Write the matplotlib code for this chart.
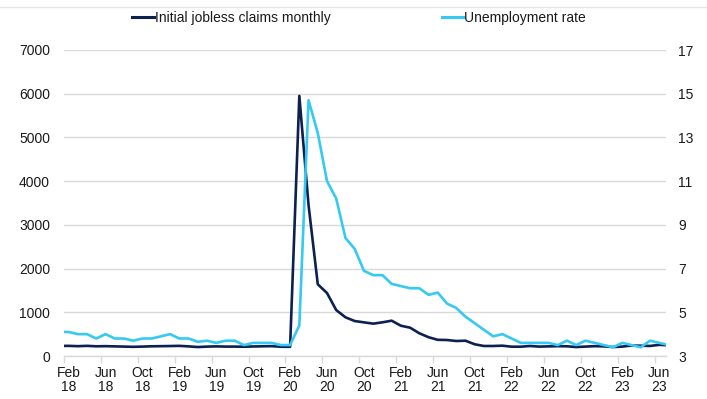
import matplotlib
matplotlib.use("Agg")
import matplotlib.pyplot as plt
from matplotlib.lines import Line2D
import numpy as np

plt.rcParams['font.family'] = ['Liberation Sans', 'DejaVu Sans']

# Monthly data, Jan 2018 .. Jul 2023
months = ["Jan 18",
          "Feb 18", "Mar 18", "Apr 18", "May 18", "Jun 18", "Jul 18", "Aug 18", "Sep 18", "Oct 18", "Nov 18", "Dec 18",
          "Jan 19", "Feb 19", "Mar 19", "Apr 19", "May 19", "Jun 19", "Jul 19", "Aug 19", "Sep 19", "Oct 19", "Nov 19", "Dec 19",
          "Jan 20", "Feb 20", "Mar 20", "Apr 20", "May 20", "Jun 20", "Jul 20", "Aug 20", "Sep 20", "Oct 20", "Nov 20", "Dec 20",
          "Jan 21", "Feb 21", "Mar 21", "Apr 21", "May 21", "Jun 21", "Jul 21", "Aug 21", "Sep 21", "Oct 21", "Nov 21", "Dec 21",
          "Jan 22", "Feb 22", "Mar 22", "Apr 22", "May 22", "Jun 22", "Jul 22", "Aug 22", "Sep 22", "Oct 22", "Nov 22", "Dec 22",
          "Jan 23", "Feb 23", "Mar 23", "Apr 23", "May 23", "Jun 23", "Jul 23"]

claims = [230,
          232, 225, 232, 222, 225, 220, 215, 210, 215, 222, 225,
          228, 232, 220, 205, 215, 220, 215, 215, 212, 218, 222, 225,
          212, 210, 5950, 3450, 1640, 1440, 1050, 885, 800, 770, 740, 770,
          808, 693, 648, 520, 430, 370, 366, 343, 350, 268, 229, 229,
          236, 213, 213, 229, 215, 220, 225, 222, 205, 215, 225, 220,
          205, 215, 240, 235, 230, 255, 245]

unemployment = [4.1,
                4.1, 4.0, 4.0, 3.8, 4.0, 3.8, 3.8, 3.7, 3.8, 3.8, 3.9,
                4.0, 3.8, 3.8, 3.65, 3.7, 3.6, 3.7, 3.7, 3.5, 3.6, 3.6, 3.6,
                3.5, 3.5, 4.4, 14.7, 13.2, 11.0, 10.2, 8.4, 7.9, 6.9, 6.7, 6.7,
                6.3, 6.2, 6.1, 6.1, 5.8, 5.9, 5.4, 5.2, 4.8, 4.5, 4.2, 3.9,
                4.0, 3.8, 3.6, 3.6, 3.6, 3.6, 3.5, 3.7, 3.5, 3.7, 3.6, 3.5,
                3.4, 3.6, 3.5, 3.4, 3.7, 3.6, 3.5]

tick_labels = ["Feb\n18", "Jun\n18", "Oct\n18", "Feb\n19", "Jun\n19", "Oct\n19",
               "Feb\n20", "Jun\n20", "Oct\n20", "Feb\n21", "Jun\n21", "Oct\n21",
               "Feb\n22", "Jun\n22", "Oct\n22", "Feb\n23", "Jun\n23"]

DARK = '#0c2152'
LIGHT = '#35c9f3'
GRID = '#d9d9d9'
TXT = '#1a1a1a'

# month index: Feb 2018 = 0, points plotted at mid-month
x = np.arange(len(months)) - 1 + 0.5

fig = plt.figure(figsize=(7.07, 3.99), dpi=100)
ax = fig.add_axes([64/707, 1-356/399, (665.7-64)/707, (356-50)/399])
ax2 = ax.twinx()

ax.plot(x, claims, color=DARK, lw=1.9, solid_joinstyle='round', zorder=3, clip_on=True)
ax2.plot(x, unemployment, color=LIGHT, lw=1.9, solid_joinstyle='round', zorder=3, clip_on=True)

ax.set_xlim(0, 65.2)
ax.set_ylim(0, 7000)
ax2.set_ylim(3, 17)
ax.set_yticks(np.arange(0, 7001, 1000))
ax2.set_yticks(np.arange(3, 18, 2))

ax.yaxis.grid(True, color=GRID, lw=1.0)
ax.set_axisbelow(True)

major = np.arange(0, 65, 4)
ax.set_xticks(major)
ax.set_xticklabels([])
ax.set_xticks(major + 0.5, minor=True)
ax.set_xticklabels(tick_labels, minor=True, linespacing=1.05)
ax.tick_params(axis='x', which='major', length=5, color=GRID, width=1)
ax.tick_params(axis='x', which='minor', length=0, pad=7, labelsize=10, labelcolor=TXT)
ax.tick_params(axis='y', length=0, pad=10, labelsize=10, labelcolor=TXT)
ax2.tick_params(axis='y', length=0, pad=9, labelsize=10, labelcolor=TXT)

for a in (ax, ax2):
    for s in ('top', 'left', 'right'):
        a.spines[s].set_visible(False)
    a.spines['bottom'].set_color(GRID)
    a.spines['bottom'].set_linewidth(1)
ax2.spines['bottom'].set_visible(False)

handles = [Line2D([], [], color=DARK, lw=2.2), Line2D([], [], color=LIGHT, lw=2.2)]
fig.legend(handles, ["Initial jobless claims monthly", "Unemployment rate"],
           loc='center', bbox_to_anchor=(359/707, 1-18/399), ncol=2, frameon=False,
           fontsize=10, handlelength=1.6, handletextpad=0.05, columnspacing=8.0,
           labelcolor=TXT)

fig.add_artist(Line2D([0, 1], [1-7/399, 1-7/399], color='#e6e6e6', lw=1,
                      transform=fig.transFigure))

fig.savefig("out.png", dpi=100)
